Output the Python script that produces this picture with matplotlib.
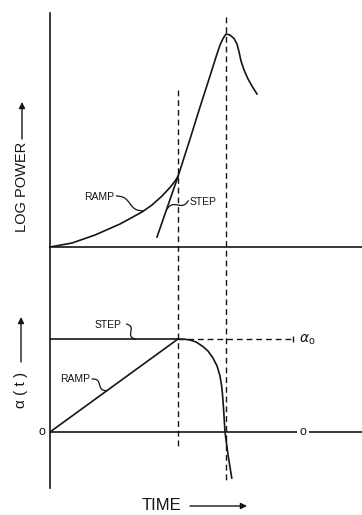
import numpy as np
import matplotlib
matplotlib.use("Agg")
import matplotlib.pyplot as plt

plt.rcParams['font.family'] = ['Liberation Sans', 'DejaVu Sans']
plt.rcParams['mathtext.fontset'] = 'dejavusans'
plt.rcParams['lines.solid_joinstyle'] = 'round'

# --- courbes (temps en unites arbitraires) ---
# puissance (log) : rampe de reactivite
ramp_t = [0.0, 0.172, 0.352, 0.547, 0.719, 0.797, 0.875, 0.9375, 0.977, 1.0]
ramp_logp = [0.0, 0.171, 0.513, 0.983, 1.496, 1.795, 2.179, 2.543, 2.821, 3.013]
# puissance (log) : echelon
step_t = [0.836, 1.0]
step_logp = [0.427, 3.013]
# partie commune : montee, pic puis decroissance
rise_t = [1.0, 1.094, 1.172, 1.25, 1.297, 1.328, 1.352, 1.375, 1.406, 1.4375,
          1.461, 1.477, 1.492, 1.516, 1.547, 1.578, 1.617]
rise_logp = [3.013, 4.615, 5.983, 7.308, 8.12, 8.632, 8.91, 9.103, 9.06, 8.91,
             8.675, 8.333, 7.949, 7.564, 7.179, 6.88, 6.538]

# reactivite alpha(t)
alpha_ramp_t = [0.0, 1.0]
alpha_ramp = [0.0, 1.0]
alpha_step_t = [0.0, 1.0]
alpha_step = [1.0, 1.0]
alpha_fall_t = [1.0, 1.055, 1.094, 1.141, 1.195, 1.234, 1.273, 1.305, 1.328,
                1.340, 1.348, 1.354, 1.359, 1.367, 1.391, 1.420]
alpha_fall = [1.0, 0.997, 0.989, 0.968, 0.919, 0.871, 0.796, 0.710, 0.602,
              0.505, 0.398, 0.290, 0.183, 0.0, -0.247, -0.495]

t_switch = 1.0
t_peak = 1.375
alpha0 = 1.0
t_alpha0_end = 1.898

ink = '#151515'
lw = 1.2
dash = (0, (4.2, 2.8))

fig = plt.figure(figsize=(3.62, 5.15), dpi=100)
ax_top = fig.add_axes([50 / 362, 268 / 515, 312 / 362, 234 / 515])
ax_bot = fig.add_axes([50 / 362, 27 / 515, 312 / 362, 241 / 515])

for ax in (ax_top, ax_bot):
    ax.set_xlim(0, 2.4375)
    for side in ('top', 'right', 'bottom'):
        ax.spines[side].set_visible(False)
    ax.spines['left'].set_linewidth(lw)
    ax.spines['left'].set_color(ink)
    ax.set_xticks([])
    ax.set_yticks([])
    ax.patch.set_alpha(0)

ax_top.set_ylim(0, 10)
ax_bot.set_ylim(-0.602, 1.989)


def squiggle(ax, p0, p1, amp=2.2):
    # petit trait ondule entre une etiquette et sa courbe
    a = ax.transData.transform(p0)
    b = ax.transData.transform(p1)
    s = np.linspace(0, 1, 40)
    d = b - a
    n = np.array([-d[1], d[0]]) / np.hypot(*d)
    pts = a + np.outer(s, d) + np.outer(amp * np.sin(2 * np.pi * s), n)
    xy = ax.transData.inverted().transform(pts)
    ax.plot(xy[:, 0], xy[:, 1], color=ink, lw=0.9, clip_on=False)


# --- panneau du haut : log puissance ---
ax_top.axhline(0, color=ink, lw=lw, clip_on=False)
ax_top.plot(ramp_t, ramp_logp, color=ink, lw=lw)
ax_top.plot(step_t, step_logp, color=ink, lw=lw)
ax_top.plot(rise_t, rise_logp, color=ink, lw=lw)

# verticales en tirets (traversent les deux panneaux)
ax_top.plot([t_switch, t_switch], [6.7, -8.63], color=ink, lw=1.0, ls=dash, clip_on=False)
ax_top.plot([t_peak, t_peak], [9.83, -10.04], color=ink, lw=1.0, ls=dash, clip_on=False)

ax_top.text(0.383, 2.14, 'RAMP', fontsize=7.5, ha='center', va='center', color=ink)
squiggle(ax_top, (0.52, 2.18), (0.727, 1.54))
ax_top.text(1.09, 1.92, 'STEP', fontsize=7.5, ha='left', va='center', color=ink)
squiggle(ax_top, (1.08, 1.97), (0.914, 1.62))

# --- panneau du bas : alpha(t) ---
ax_bot.axhline(0, color=ink, lw=lw)
ax_bot.plot(alpha_step_t, alpha_step, color=ink, lw=lw)
ax_bot.plot(alpha_ramp_t, alpha_ramp, color=ink, lw=lw)
ax_bot.plot(alpha_fall_t, alpha_fall, color=ink, lw=lw)
ax_bot.plot([t_switch, t_alpha0_end], [alpha0, alpha0], color=ink, lw=1.0, ls=dash)
ax_bot.plot([t_alpha0_end], [alpha0], marker='|', ms=5, mew=1.0, color=ink)
ax_bot.text(1.945, alpha0 - 0.01, r'$\alpha_{\rm o}$', fontsize=10, ha='left', va='center', color=ink)

ax_bot.text(1.977, 0, 'o', fontsize=9, ha='center', va='center', color=ink,
            bbox=dict(facecolor='white', edgecolor='none', pad=1.5))
ax_bot.text(-0.0625, 0, 'o', fontsize=9, ha='center', va='center', color=ink, clip_on=False)

ax_bot.text(0.453, 1.15, 'STEP', fontsize=7.5, ha='center', va='center', color=ink)
squiggle(ax_bot, (0.60, 1.16), (0.664, 1.0))
ax_bot.text(0.195, 0.57, 'RAMP', fontsize=7.5, ha='center', va='center', color=ink)
squiggle(ax_bot, (0.33, 0.57), (0.445, 0.445))

# --- titres des axes avec fleches ---
arrow = dict(arrowstyle='-|>', lw=1.0, color=ink, mutation_scale=9, shrinkA=0, shrinkB=0)

fig.text(22 / 362, 1 - 187 / 515, 'LOG POWER', rotation=90, ha='center', va='center',
         fontsize=10.5, color=ink)
fig.add_artist(matplotlib.patches.FancyArrowPatch(
    (22 / 362, 1 - 139 / 515), (22 / 362, 1 - 102 / 515),
    transform=fig.transFigure, **arrow))

fig.text(21 / 362, 1 - 390 / 515, 'α ( t )', rotation=90, ha='center', va='center',
         fontsize=11, color=ink)
fig.add_artist(matplotlib.patches.FancyArrowPatch(
    (21 / 362, 1 - 362 / 515), (21 / 362, 1 - 317 / 515),
    transform=fig.transFigure, **arrow))

fig.text(162 / 362, 1 - 506 / 515, 'TIME', ha='center', va='center', fontsize=12, color=ink)
fig.add_artist(matplotlib.patches.FancyArrowPatch(
    (190 / 362, 1 - 506 / 515), (247 / 362, 1 - 506 / 515),
    transform=fig.transFigure, **arrow))

fig.savefig('out.png', dpi=100, facecolor='white')
